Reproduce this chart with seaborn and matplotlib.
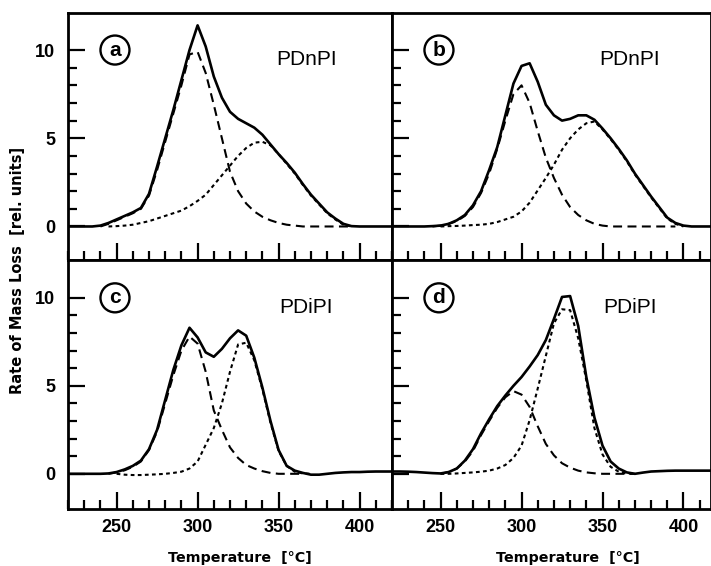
import numpy as np
import pandas as pd
import seaborn as sns
import matplotlib.pyplot as plt
from matplotlib.ticker import MultipleLocator, FixedLocator

# temperature grid (deg C) and rates
temps = list(range(220, 425, 5))
nan = np.nan

a_total = [0, 0, 0, 0, 0.05, 0.2, 0.4, 0.6, 0.8, 1.05, 1.85, 3.4, 5.0, 6.6, 8.3, 10.0, 11.4,
           10.2, 8.5, 7.3, 6.5, 6.1, 5.85, 5.6, 5.2, 4.65, 4.1, 3.6, 3.05, 2.4, 1.8, 1.3,
           0.8, 0.45, 0.15, 0.02, 0, 0, 0, 0, 0]
a_fast = [nan, nan, nan, nan, 0, 0.15, 0.35, 0.55, 0.75, 1.0, 1.75, 3.2, 4.8, 6.4, 8.0, 9.75, 9.9,
          8.7, 6.9, 5.0, 3.1, 2.0, 1.3, 0.85, 0.55, 0.35, 0.2, 0.1, 0.05, 0, 0, 0,
          0, 0, 0, 0, nan, nan, nan, nan, nan]
a_slow = [nan, nan, nan, nan, nan, 0, 0.02, 0.05, 0.1, 0.2, 0.3, 0.45, 0.6, 0.75, 0.9, 1.15, 1.45,
          1.8, 2.35, 2.9, 3.45, 4.0, 4.45, 4.75, 4.8, 4.6, 4.1, 3.55, 3.0, 2.35, 1.75, 1.25,
          0.75, 0.4, 0.1, 0, nan, nan, nan, nan, nan]

b_total = [0, 0, 0, 0, 0, 0.02, 0.05, 0.15, 0.35, 0.65, 1.2, 2.0, 3.2, 4.5, 6.3, 8.1, 9.1,
           9.25, 8.2, 6.9, 6.3, 6.0, 6.1, 6.3, 6.3, 6.05, 5.55, 5.0, 4.4, 3.75, 3.0, 2.35,
           1.7, 1.1, 0.5, 0.2, 0.05, 0, 0, 0, 0]
b_fast = [nan, nan, nan, nan, nan, 0, 0.05, 0.15, 0.3, 0.6, 1.1, 1.9, 3.0, 4.4, 6.0, 7.5, 8.0,
          7.0, 5.4, 3.9, 2.75, 1.8, 1.1, 0.65, 0.35, 0.15, 0.05, 0, 0, 0, 0, 0,
          0, 0, 0, 0, nan, nan, nan, nan, nan]
b_slow = [nan, nan, nan, nan, nan, nan, 0, 0.02, 0.03, 0.05, 0.08, 0.1, 0.15, 0.25, 0.4, 0.55, 0.85,
          1.35, 2.05, 2.75, 3.5, 4.35, 5.0, 5.5, 5.85, 5.95, 5.5, 4.95, 4.35, 3.7, 2.95, 2.3,
          1.65, 1.05, 0.45, 0.15, 0, nan, nan, nan, nan]

c_total = [0, 0, 0, 0, 0, 0.02, 0.1, 0.25, 0.45, 0.75, 1.4, 2.5, 4.2, 5.9, 7.3, 8.3, 7.75,
           6.9, 6.65, 7.1, 7.7, 8.15, 7.85, 6.6, 4.9, 3.0, 1.35, 0.45, 0.18, 0.05, -0.05, -0.05,
           0, 0.05, 0.08, 0.1, 0.1, 0.12, 0.13, 0.13, 0.13]
c_fast = [nan, nan, nan, nan, nan, 0, 0.08, 0.2, 0.4, 0.7, 1.35, 2.4, 4.0, 5.6, 7.0, 7.8, 7.4,
          5.8, 3.6, 2.5, 1.5, 0.9, 0.5, 0.3, 0.15, 0.05, 0, 0, 0, 0, nan, nan,
          nan, nan, nan, nan, nan, nan, nan, nan, nan]
c_slow = [nan, nan, nan, nan, nan, nan, 0, -0.05, -0.07, -0.07, -0.05, -0.03, 0, 0.05, 0.12, 0.3, 0.7,
          1.65, 2.6, 4.0, 5.8, 7.35, 7.45, 6.45, 4.8, 2.9, 1.3, 0.45, 0.12, 0.02, 0, nan,
          nan, nan, nan, nan, nan, nan, nan, nan, nan]

d_total = [0.13, 0.13, 0.12, 0.1, 0.07, 0.04, 0.02, 0.1, 0.3, 0.75, 1.4, 2.3, 3.1, 3.85, 4.45, 5.0, 5.5,
           6.1, 6.75, 7.6, 8.8, 10.05, 10.1, 8.4, 5.5, 3.2, 1.6, 0.7, 0.3, 0.08, 0, 0.07,
           0.13, 0.15, 0.17, 0.18, 0.18, 0.18, 0.18, 0.18, 0.18]
d_fast = [nan, nan, nan, nan, nan, nan, 0, 0.1, 0.3, 0.7, 1.3, 2.2, 3.0, 3.75, 4.35, 4.7, 4.5,
          3.8, 2.7, 1.7, 1.05, 0.6, 0.35, 0.18, 0.08, 0.03, 0, 0, 0, 0, 0, nan,
          nan, nan, nan, nan, nan, nan, nan, nan, nan]
d_slow = [nan, nan, nan, nan, nan, nan, 0, 0, 0.02, 0.05, 0.08, 0.12, 0.18, 0.3, 0.5, 0.9, 1.6,
          3.05, 4.85, 6.7, 8.55, 9.35, 9.3, 7.7, 5.3, 2.6, 1.1, 0.4, 0.12, 0.02, 0, nan,
          nan, nan, nan, nan, nan, nan, nan, nan, nan]

panel_letters = ["a", "b", "c", "d"]
panel_names = ["PDnPI", "PDnPI", "PDiPI", "PDiPI"]
panel_curves = [(a_total, a_fast, a_slow), (b_total, b_fast, b_slow),
                (c_total, c_fast, c_slow), (d_total, d_fast, d_slow)]

sns.set_style("white")
plt.rcParams['font.family'] = ['DejaVu Sans']
plt.rcParams['text.color'] = 'black'
lib = ['Liberation Sans', 'DejaVu Sans']

fig = plt.figure(figsize=(7.11, 5.66), dpi=100)
W, H = 711, 566

def px_axes(x0, y0, x1, y1):
    return fig.add_axes([x0 / W, 1 - y1 / H, (x1 - x0) / W, (y1 - y0) / H])

boxes = [(68, 13, 392, 260), (392, 13, 711, 260), (68, 260, 392, 509), (392, 260, 711, 509)]

# total = solid, first step = long dashes, second step = short dashes
styles = [("-", 1.9), ((0, (4.3, 2.6)), 1.5), ((0, (1.8, 1.6)), 1.5)]

for i, box in enumerate(boxes):
    ax = px_axes(*box)
    total, fast, slow = panel_curves[i]
    for vals, (ls, lw) in zip((total, fast, slow), styles):
        s = pd.Series(vals, dtype=float)
        sns.lineplot(x=temps, y=s, ax=ax, color="black", linestyle=ls, lw=lw,
                     errorbar=None, sort=False)

    left = i in (0, 2)
    top = i in (0, 1)
    ax.set_xlim(220, 420 if left else 417)
    ax.set_ylim((-1.9, 12.1) if top else (-2.0, 12.15))

    ax.xaxis.set_major_locator(MultipleLocator(50))
    ax.xaxis.set_minor_locator(MultipleLocator(10))
    ax.yaxis.set_major_locator(FixedLocator([0, 5, 10]))
    ax.yaxis.set_minor_locator(FixedLocator([1, 2, 3, 4, 6, 7, 8, 9]))
    ax.tick_params(which="both", direction="in", bottom=True, left=True,
                   top=False, right=False, color="black", width=1.6)
    ax.tick_params(which="major", length=12)
    ax.tick_params(which="minor", length=6.5)
    ax.tick_params(axis="y", pad=9, labelleft=left, labelsize=13, labelcolor="black")
    ax.tick_params(axis="x", pad=7, labelbottom=not top, labelsize=13, labelcolor="black")
    for lab in ax.get_xticklabels() + ax.get_yticklabels():
        lab.set_fontweight("bold")
        lab.set_family(lib)
    for sp in ax.spines.values():
        sp.set_linewidth(2)
        sp.set_color("black")
    ax.set_xlabel("")
    ax.set_ylabel("")

    ax.text(249, 10.0, panel_letters[i], ha="center", va="center", fontsize=15,
            fontweight="bold", family=lib,
            bbox=dict(boxstyle="circle,pad=0.24", fc="white", ec="black", lw=1.7))
    ax.text(367, 9.45, panel_names[i], ha="center", va="center", fontsize=15,
            family=lib)

fig.text(17.5 / W, 1 - 270 / H, "Rate of Mass Loss  [rel. units]", rotation=90,
         ha="center", va="center", fontsize=10.5, fontweight="bold")
fig.text(240 / W, 1 - 558 / H, "Temperature  [°C]", ha="center", va="center",
         fontsize=10.3, fontweight="bold")
fig.text(568 / W, 1 - 558 / H, "Temperature  [°C]", ha="center", va="center",
         fontsize=10.3, fontweight="bold")

fig.savefig("out.png", dpi=100)
